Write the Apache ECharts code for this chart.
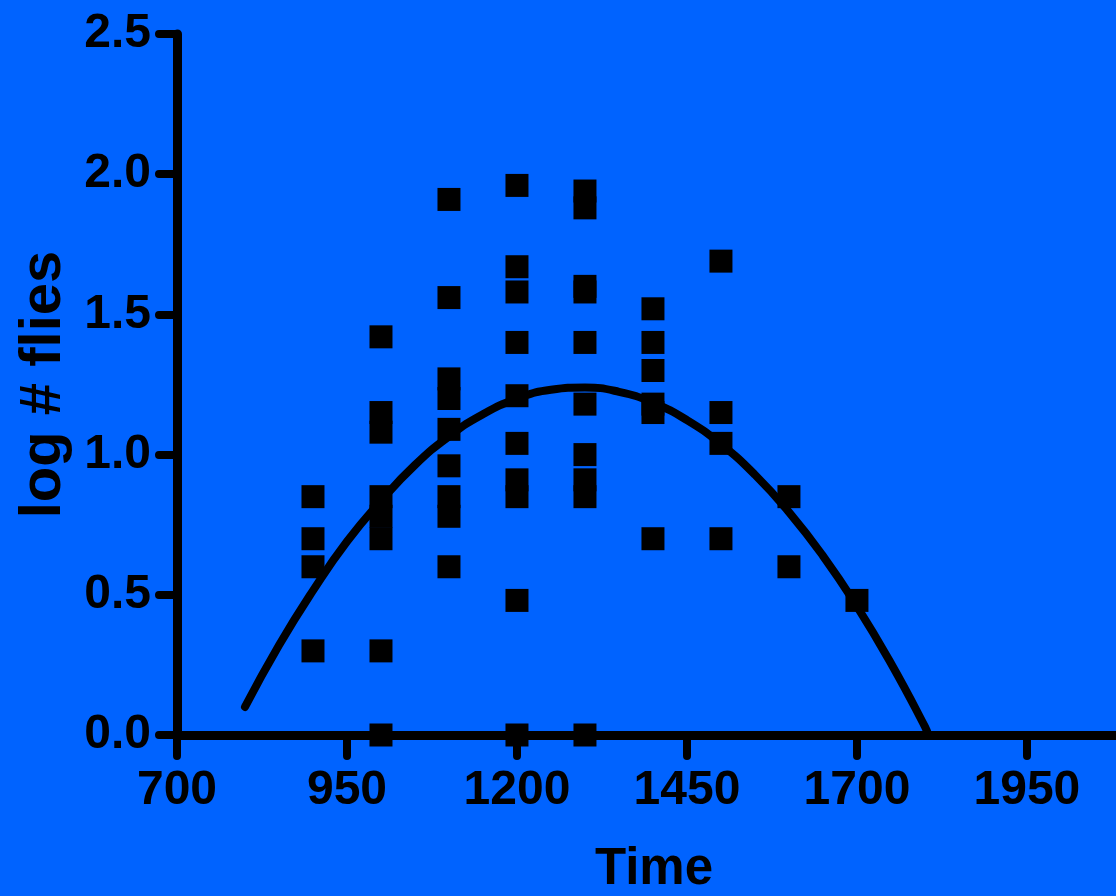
<!DOCTYPE html>
<html>
<head>
<meta charset="utf-8">
<script src="https://cdn.jsdelivr.net/npm/echarts@6/dist/echarts.min.js"></script>
<style>
  html, body { margin: 0; padding: 0; background: #0063ff; }
  #chart { width: 1116px; height: 896px; }
</style>
</head>
<body>
<div id="chart"></div>
<script>
// ---- data ----
const xTicks = [700, 950, 1200, 1450, 1700, 1950];
const sampleTimes = [900, 1000, 1100, 1200, 1300, 1400, 1500, 1600, 1700];
const logFlies900  = [0.85, 0.70, 0.60, 0.30];
const logFlies1000 = [1.42, 1.15, 1.08, 0.85, 0.78, 0.70, 0.30, 0.00];
const logFlies1100 = [1.91, 1.56, 1.27, 1.20, 1.09, 0.96, 0.85, 0.78, 0.60];
const logFlies1200 = [1.96, 1.67, 1.58, 1.40, 1.21, 1.04, 0.91, 0.85, 0.48, 0.00];
const logFlies1300 = [1.94, 1.88, 1.60, 1.58, 1.40, 1.18, 1.00, 0.91, 0.85, 0.00];
const logFlies1400 = [1.52, 1.40, 1.30, 1.18, 1.15, 0.70];
const logFlies1500 = [1.69, 1.15, 1.04, 0.70];
const logFlies1600 = [0.85, 0.60];
const logFlies1700 = [0.48];
const fitTime = [800, 850, 900, 950, 1000, 1050, 1100, 1150, 1200, 1250, 1300, 1350, 1400, 1450, 1500, 1550, 1600, 1650, 1700, 1750, 1800, 1805];
const fitLogFlies = [0.10, 0.32, 0.515, 0.69, 0.835, 0.963, 1.065, 1.144, 1.199, 1.231, 1.239, 1.224, 1.185, 1.123, 1.037, 0.928, 0.795, 0.639, 0.459, 0.256, 0.03, 0.0];

// ---- build ----
const groups = [logFlies900, logFlies1000, logFlies1100, logFlies1200, logFlies1300,
                logFlies1400, logFlies1500, logFlies1600, logFlies1700];
const scatterData = [];
groups.forEach((vals, i) => vals.forEach(v => scatterData.push([sampleTimes[i], v])));
const fitData = fitTime.map((t, i) => [t, fitLogFlies[i]]);

const font = "'Liberation Sans', Arial, Helvetica, sans-serif";

const chart = echarts.init(document.getElementById('chart'), null, { renderer: 'canvas' });
chart.setOption({
  animation: false,
  backgroundColor: '#0063ff',
  grid: { left: 177, right: 0, top: 34, height: 701, containLabel: false, outerBoundsMode: 'none' },
  xAxis: {
    type: 'value',
    min: 700,
    max: 2081,
    name: 'Time',
    nameLocation: 'middle',
    nameGap: 109,
    nameTextStyle: { fontFamily: font, fontWeight: 'bold', fontSize: 51, color: '#000', padding: [0, 0, 0, 15] },
    splitLine: { show: false },
    axisLine: { show: true, lineStyle: { color: '#000', width: 9, cap: 'round' } },
    axisTick: { show: true, length: 21, customValues: xTicks, lineStyle: { color: '#000', width: 8, cap: 'round' } },
    axisLabel: {
      customValues: xTicks, margin: 32, color: '#000', fontFamily: font, fontWeight: 'bold', fontSize: 48,
      formatter: v => String(v)
    }
  },
  yAxis: {
    type: 'value',
    min: 0,
    max: 2.5,
    interval: 0.5,
    name: 'log # flies',
    nameLocation: 'middle',
    nameRotate: 90,
    nameGap: 103,
    nameTextStyle: { fontFamily: font, fontWeight: 'bold', fontSize: 58, color: '#000' },
    splitLine: { show: false },
    axisLine: { show: true, lineStyle: { color: '#000', width: 9, cap: 'round' } },
    axisTick: { show: true, length: 18, lineStyle: { color: '#000', width: 8, cap: 'round' } },
    axisLabel: {
      margin: 26, color: '#000', fontFamily: font, fontWeight: 'bold', fontSize: 48,
      formatter: v => v.toFixed(1)
    }
  },
  series: [
    {
      type: 'line',
      data: fitData,
      smooth: true,
      showSymbol: false,
      symbol: 'none',
      clip: false,
      lineStyle: { color: '#000', width: 8, cap: 'round' },
      z: 2
    },
    {
      type: 'scatter',
      data: scatterData,
      symbol: 'rect',
      symbolSize: 23,
      clip: false,
      itemStyle: { color: '#000', opacity: 1 },
      z: 3
    }
  ]
});
</script>
</body>
</html>
